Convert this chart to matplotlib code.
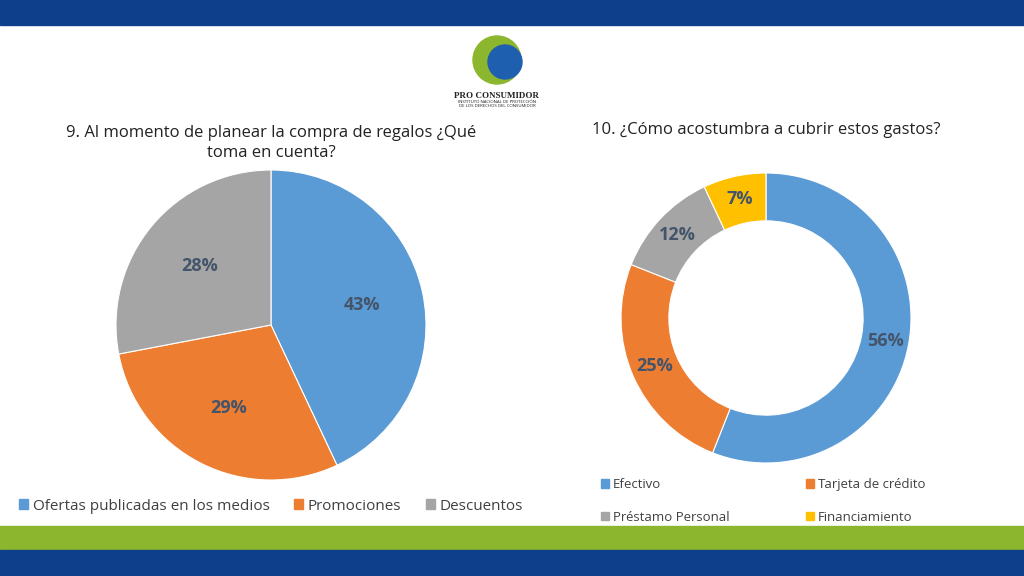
import matplotlib
matplotlib.use("Agg")
import matplotlib.pyplot as plt
from matplotlib.patches import Rectangle, Patch

plt.rcParams["font.family"] = "Open Sans"

pie_labels = ["Ofertas publicadas en los medios", "Promociones", "Descuentos"]
pie_values = [43, 29, 28]
donut_labels = ["Efectivo", "Tarjeta de crédito", "Préstamo Personal", "Financiamiento"]
donut_values = [56, 25, 12, 7]
colors = ["#5B9BD5", "#ED7D31", "#A5A5A5", "#FFC000"]
label_color = "#44546A"

W, H = 1024, 576
fig = plt.figure(figsize=(W / 100, H / 100), dpi=100)


def px_axes(x0, y0, w, h):
    # pixel box (top-left origin) -> figure axes
    return fig.add_axes([x0 / W, 1 - (y0 + h) / H, w / W, h / H])


# background bands
bg = fig.add_axes([0, 0, 1, 1])
bg.set_xlim(0, W)
bg.set_ylim(H, 0)
bg.axis("off")
bg.add_patch(Rectangle((0, 0), W, 25, color="#0E3F8A"))
bg.add_patch(Rectangle((0, 526), W, 24, color="#8DB62F"))
bg.add_patch(Rectangle((0, 550), W, 26, color="#0E3F8A"))

# logo approximation
bg.add_patch(plt.Circle((497, 60), 24, color="#8DB62F"))
bg.add_patch(plt.Circle((505, 62), 17, color="#1F5FAF"))
bg.text(497, 96, "PRO CONSUMIDOR", ha="center", va="center", fontsize=6.5,
        fontweight="bold", family="Liberation Serif", color="#222222")
bg.text(497, 104, "INSTITUTO NACIONAL DE PROTECCIÓN\nDE LOS DERECHOS DEL CONSUMIDOR",
        ha="center", va="center", fontsize=3.2, color="#222222", linespacing=1.1)

# titles
bg.text(271, 143, "9. Al momento de planear la compra de regalos ¿Qué\ntoma en cuenta?",
        ha="center", va="center", fontsize=12, color="#222222", linespacing=1.3)
bg.text(766, 130, "10. ¿Cómo acostumbra a cubrir estos gastos?",
        ha="center", va="center", fontsize=12, color="#222222")

# pie
ax1 = px_axes(116, 170, 310, 310)
ax1.pie(pie_values, colors=colors[:3], startangle=90, counterclock=False,
        autopct="%d%%", pctdistance=0.6,
        textprops=dict(fontsize=13, fontweight="bold", color=label_color),
        wedgeprops=dict(edgecolor="white", linewidth=0.8))
ax1.set_xlim(-1, 1)
ax1.set_ylim(-1, 1)
ax1.set_aspect("equal")

# donut
ax2 = px_axes(621, 173, 290, 290)
ax2.pie(donut_values, colors=colors, startangle=90, counterclock=False,
        autopct="%d%%", pctdistance=0.84,
        textprops=dict(fontsize=13, fontweight="bold", color=label_color),
        wedgeprops=dict(width=0.33, edgecolor="white", linewidth=0.8))
ax2.set_xlim(-1, 1)
ax2.set_ylim(-1, 1)
ax2.set_aspect("equal")

# legends
handles1 = [Patch(color=c) for c in colors[:3]]
fig.legend(handles1, pie_labels, loc="center", bbox_to_anchor=(271 / W, 1 - 506 / H),
           ncol=3, frameon=False, fontsize=11, handlelength=0.6, handleheight=0.6,
           columnspacing=1.6, handletextpad=0.3, labelcolor="#404040")
handles2 = [Patch(color=c) for c in colors]
order = [0, 2, 1, 3]
fig.legend([handles2[i] for i in order], [donut_labels[i] for i in order],
           loc="center", bbox_to_anchor=(763 / W, 1 - 501 / H),
           ncol=2, frameon=False, fontsize=9.5, handlelength=0.6, handleheight=0.6,
           columnspacing=5.8, handletextpad=0.3, labelspacing=1.5, labelcolor="#404040")

fig.savefig("out.png", dpi=100)
